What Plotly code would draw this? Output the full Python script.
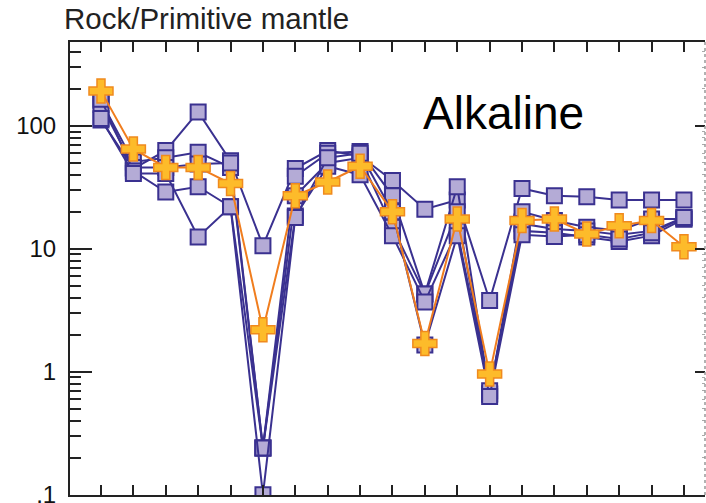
import plotly.graph_objects as go

# element positions along the spider diagram (labels not visible in the source)
positions = list(range(1, 20))

sample_1 = [112, 45, 63, 130, 52, 10.6, 45, 63, 57, 36, 21, 25, 3.8, 31, 27, 26.5, 25, 25, 25]
sample_2 = [160, 51, 55, 61, 46, 0.24, 39, 60, 62, 27, 4.3, 32, 0.66, 20, 17, 15, 14.1, 17.5, 17.5]
sample_3 = [150, 46, 46, 49, 50, 0.24, 27, 50, 55, 15, 4.3, 20, 0.66, 16, 14.5, 14, 13, 14, 18]
sample_4 = [165, 43, 29, 32, 22, 0.24, 18.5, 47, 40, 12.8, 3.7, 14, 0.7, 14, 13.5, 12.5, 11.5, 12.8, 17.5]
sample_5 = [115, 41, 41, 12.5, 22, 0.1, 18, 55, 60, 20, 1.65, 12.8, 0.63, 13, 12.6, 13, 12, 13.5, 18]
reference = [192, 65, 46, 46, 34, 2.2, 27, 35, 47, 20, 1.7, 17.5, 0.96, 17, 17.5, 13.2, 15.4, 17, 10.4]

samples = [sample_1, sample_2, sample_3, sample_4, sample_5]

y_tickvals = [0.1, 1, 10, 100]
y_ticktext = [".1", "1", "10", "100"]

FONT = "Arial, Liberation Sans, sans-serif"
NAVY = "#3a3190"
LAV = "#b4abd6"

fig = go.Figure()
for s in samples:
    fig.add_trace(go.Scatter(
        x=positions, y=s, mode="lines+markers",
        line=dict(color=NAVY, width=2),
        marker=dict(symbol="square", size=15, color=LAV, line=dict(color=NAVY, width=2)),
        showlegend=False, hoverinfo="skip"))

fig.add_trace(go.Scatter(
    x=positions, y=reference, mode="lines+markers",
    line=dict(color="#f07d1e", width=2),
    marker=dict(symbol="cross", size=20, color="#fdbb2a", line=dict(color="#f08a1e", width=1.5)),
    showlegend=False, hoverinfo="skip"))

# invisible trace so the right-hand tick axis renders
fig.add_trace(go.Scatter(x=[positions[0]], y=[reference[0]], yaxis="y2", mode="markers",
                         marker=dict(opacity=0), showlegend=False, hoverinfo="skip"))

yrange = [-1.003, 2.683]
fig.update_layout(
    width=706, height=503,
    margin=dict(l=70, r=1, t=42, b=8, autoexpand=False),
    paper_bgcolor="white", plot_bgcolor="white",
    font=dict(family=FONT, color="black"),
    xaxis=dict(range=[0.043, 19.65], tickvals=positions, ticks="inside", ticklen=10,
               tickwidth=2, tickcolor="#222", showticklabels=False, showline=True,
               linecolor="#222", linewidth=2, mirror="ticks", showgrid=False, zeroline=False,
               automargin=False),
    yaxis=dict(type="log", range=yrange, tickvals=y_tickvals, ticktext=y_ticktext,
               ticks="inside", ticklen=22, tickwidth=2, tickcolor="#222",
               tickfont=dict(size=24, family=FONT, color="#111"), ticklabelstandoff=7,
               ticklabeloverflow="allow", automargin=False,
               showline=True, linecolor="#222", linewidth=2, showgrid=False, zeroline=False,
               minor=dict(dtick="D1", ticks="inside", ticklen=11, tickwidth=2, tickcolor="#222",
                          showgrid=False)),
    yaxis2=dict(type="log", range=yrange, overlaying="y", side="right", tickvals=y_tickvals,
                ticks="inside", ticklen=10, tickwidth=2, tickcolor="#222", showticklabels=False,
                showline=False, showgrid=False, zeroline=False, automargin=False,
                minor=dict(dtick="D1", ticks="inside", ticklen=3, tickwidth=1, tickcolor="#aaa",
                           showgrid=False)),
    shapes=[dict(type="line", xref="paper", yref="paper", x0=1, x1=1, y0=0, y1=1,
                 line=dict(color="#999", width=1.5, dash="dot"))],
    annotations=[
        dict(text="Rock/Primitive mantle", xref="paper", yref="paper", x=0, xshift=-8,
             y=1, yshift=24, xanchor="left", yanchor="middle", showarrow=False,
             font=dict(size=29.5, family=FONT, color="#222")),
        dict(text="Alkaline", xref="paper", yref="paper", x=0.683, y=0.843,
             xanchor="center", yanchor="middle", showarrow=False,
             font=dict(size=46, family=FONT, color="black")),
    ],
)

fig.write_html("out.html")
